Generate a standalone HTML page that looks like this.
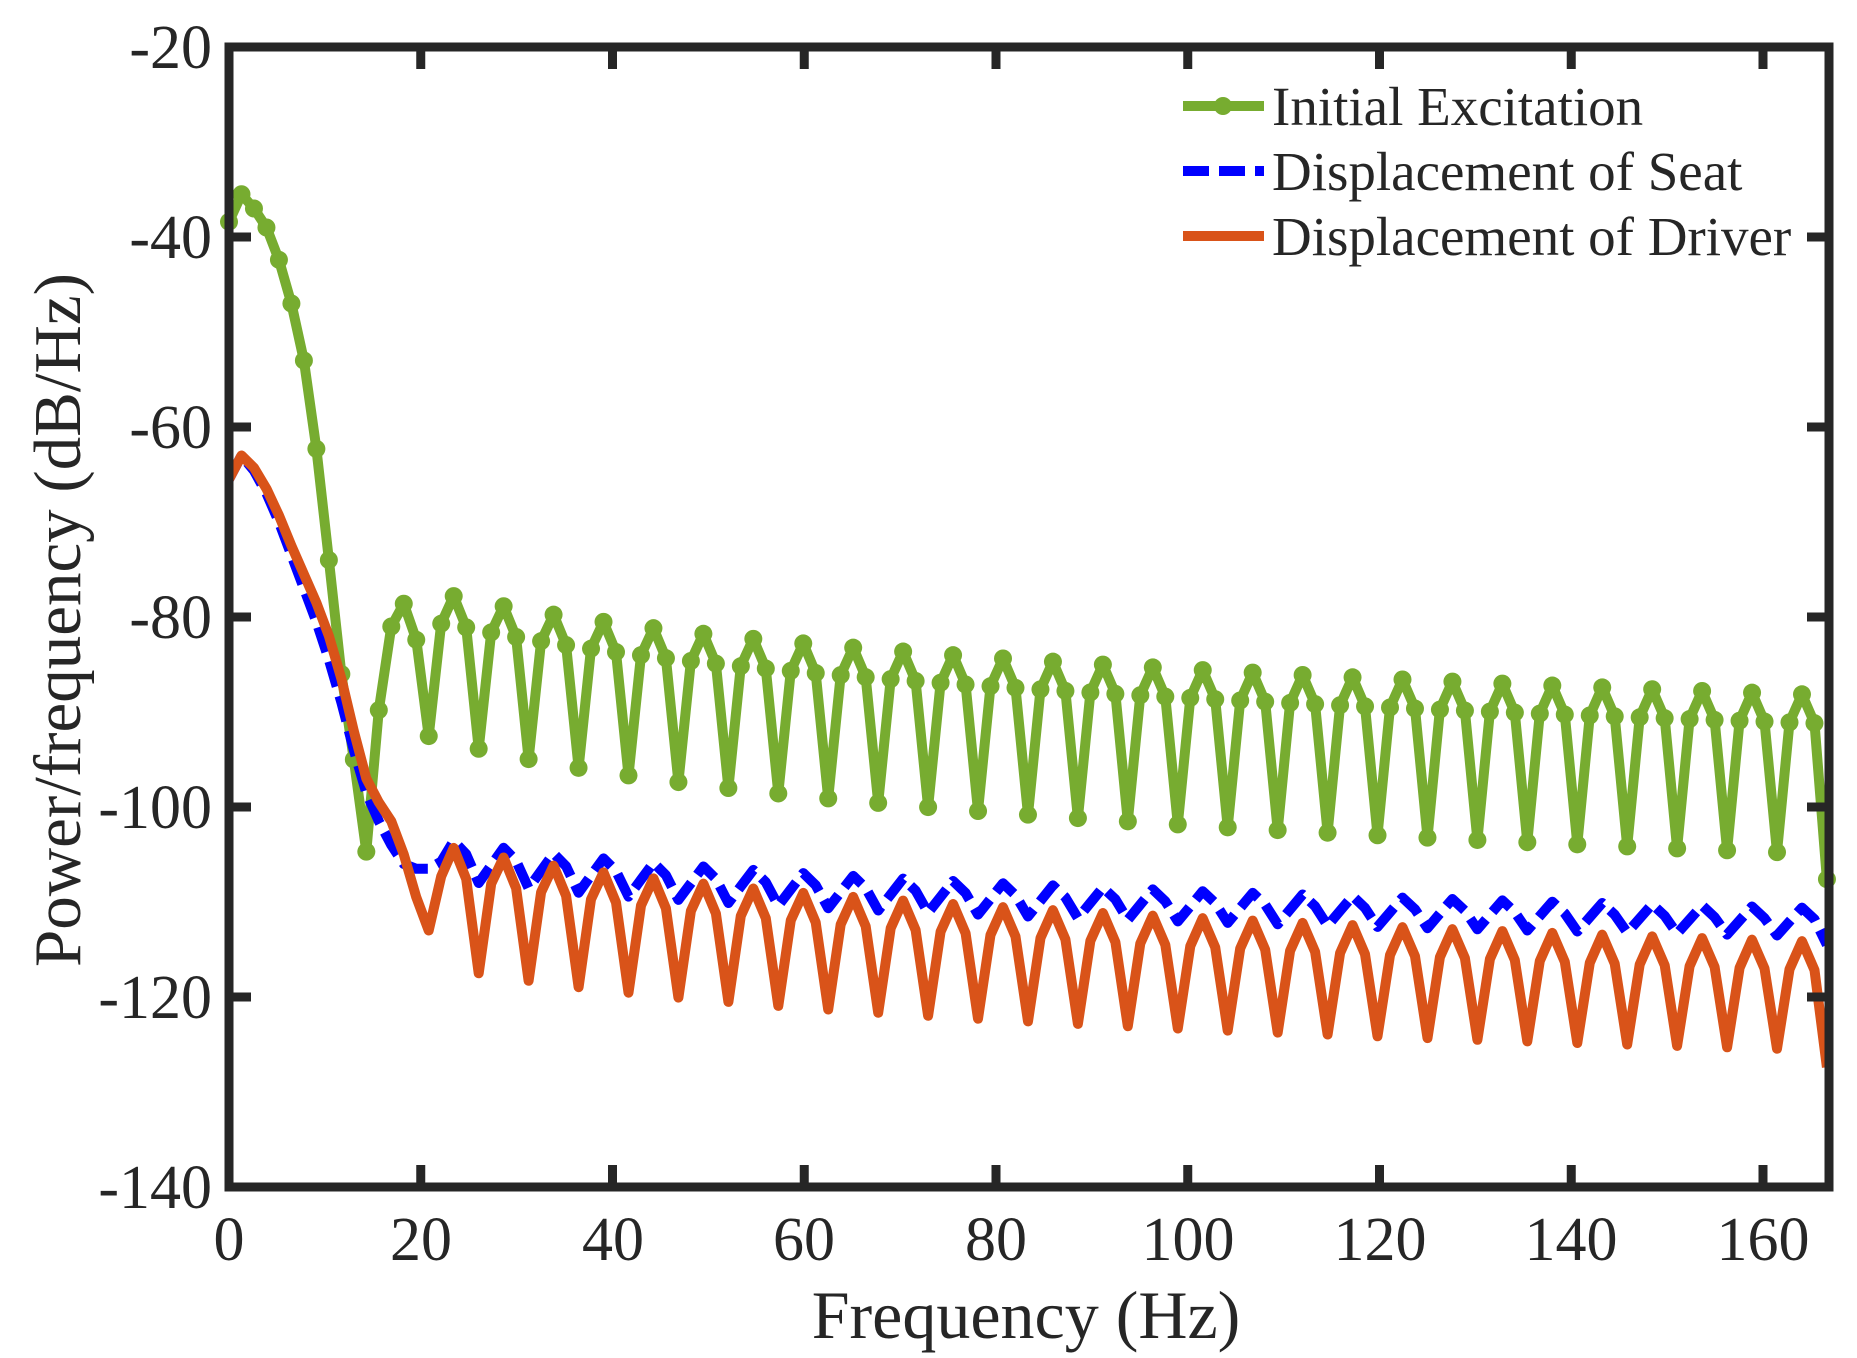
<!DOCTYPE html>
<html><head><meta charset="utf-8"><style>
html,body{margin:0;padding:0;background:#fff;}
svg{display:block;}
text{font-family:"Liberation Serif","Times New Roman",serif;fill:#262626;}
</style></head><body>
<svg id="s" width="1857" height="1358" viewBox="0 0 1857 1358" xmlns="http://www.w3.org/2000/svg">
<rect width="1857" height="1358" fill="#fff"/>
<g id="plot"></g>
<g id="axes" stroke="#262626" stroke-width="9" fill="none"></g>
<g font-size="62" text-anchor="end" id="yl">
<text x="212" y="68">-20</text><text x="212" y="258">-40</text><text x="212" y="448">-60</text>
<text x="212" y="638">-80</text><text x="212" y="828">-100</text><text x="212" y="1018">-120</text>
<text x="212" y="1208">-140</text>
</g>
<g font-size="62" text-anchor="middle">
<text x="229" y="1260">0</text><text x="421" y="1260">20</text><text x="613" y="1260">40</text>
<text x="804" y="1260">60</text><text x="996" y="1260">80</text><text x="1188" y="1260">100</text>
<text x="1380" y="1260">120</text><text x="1571" y="1260">140</text><text x="1763" y="1260">160</text>
</g>
<text x="1026" y="1338" font-size="68" text-anchor="middle">Frequency (Hz)</text>
<text transform="translate(80,620) rotate(-90)" font-size="67" text-anchor="middle">Power/frequency (dB/Hz)</text>
<g font-size="55">
<line x1="1183" y1="106" x2="1264" y2="106" stroke="#77AC30" stroke-width="10"/>
<circle cx="1223" cy="106" r="9" fill="#77AC30"/>
<text x="1272" y="125">Initial Excitation</text>
<line x1="1183" y1="171" x2="1264" y2="171" stroke="#0000FF" stroke-width="10" stroke-dasharray="26,10"/>
<text x="1272" y="190">Displacement of Seat</text>
<line x1="1183" y1="236" x2="1264" y2="236" stroke="#D95319" stroke-width="10"/>
<text x="1272" y="255">Displacement of Driver</text>
</g>
</svg>
<script>
(function(){
var NS="http://www.w3.org/2000/svg";
var df=166.67/128;
function X(f){return 229+f*9.5875;}
function Y(d){return 47+(-20-d)*9.5;}
function lg(f,a,b,fa,fb){return a+(b-a)*Math.log(f/fa)/Math.log(fb/fa);}
var g=[-38.4,-35.5,-37,-39,-42.4,-47,-53,-62.3,-74,-86,-95,-104.7,-89.8,-81,-78.6,-82.4];
var r=[-65.5,-63,-64.3,-66.5,-69.3,-72.5,-75.5,-78.5,-82,-86.5,-92,-97,-99.5,-101.5,-105,-109.5];
var b=[-65.5,-63,-64.6,-67,-70,-73.5,-77,-80.5,-84.5,-89,-94,-98.5,-101.5,-104,-106,-106.5];
for(var i=16;i<=128;i++){
 var f=i*df,m=i%4;
 var pk=lg(Math.max(f,23),-77.7,-88,23,160);
 var dp=lg(Math.max(f,20.7),-92.5,-104.7,20.7,160);
 var gv= m==0?dp:(m==2?pk:pk-3);
 var rp=lg(Math.max(f,23.4),-104.3,-114,23.4,160);
 var rd=lg(Math.max(f,26),-117.5,-125.4,26,160);
 var rv= m==0?rd:(m==2?rp:rp-3);
 if(i==16)rv=-113;
 var bp=lg(Math.max(f,23),-103.5,-110.5,23,160);
 var bt=lg(Math.max(f,26),-108,-113.5,26,160);
 var bv= m==0?bt:(m==1?(bt+bp)/2:(m==2?bp:bp-1.2));
 if(i==16)bv=-106.5;
 if(i==128){gv=-107.6;rv=-127.4;bv=-114.5;}
 g.push(gv);r.push(rv);b.push(bv);
}
function pts(a){return a.map(function(v,i){return X(i*df).toFixed(1)+","+Y(v).toFixed(1);}).join(" ");}
var plot=document.getElementById("plot");
function pl(a,col,dash){var p=document.createElementNS(NS,"polyline");p.setAttribute("points",pts(a));p.setAttribute("fill","none");p.setAttribute("stroke",col);p.setAttribute("stroke-width","10");p.setAttribute("stroke-linejoin","round");if(dash)p.setAttribute("stroke-dasharray",dash);plot.appendChild(p);}
pl(g,"#77AC30");
g.forEach(function(v,i){var c=document.createElementNS(NS,"circle");c.setAttribute("cx",X(i*df));c.setAttribute("cy",Y(v));c.setAttribute("r","9");c.setAttribute("fill","#77AC30");plot.appendChild(c);});
pl(b,"#0000FF","26,10");
pl(r,"#D95319");
var ax=document.getElementById("axes");
var d="M229,47H1829V1187H229Z";
for(var k=0;k<=8;k++){var x=229+k*191.75;d+="M"+x+",1187v-22M"+x+",47v22";}
for(var k=0;k<=6;k++){var y=47+k*190;d+="M229,"+y+"h22M1829,"+y+"h-22";}
var p=document.createElementNS(NS,"path");p.setAttribute("d",d);ax.appendChild(p);
})();
</script>
</body></html>
